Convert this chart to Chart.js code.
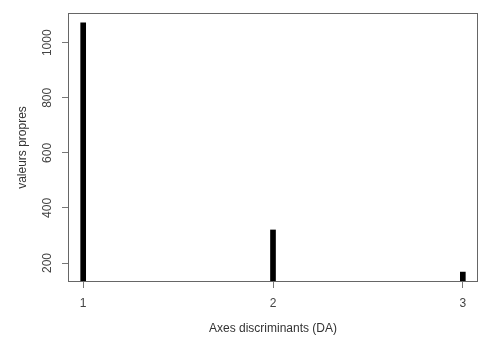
<!DOCTYPE html>
<html>
<head>
<meta charset="utf-8">
<script src="https://cdn.jsdelivr.net/npm/chart.js@4"></script>
<style>
  html, body { margin: 0; padding: 0; background: #fff; }
  #wrap { width: 482px; height: 337px; }
</style>
</head>
<body>
<div id="wrap"><canvas id="eigChart"></canvas></div>
<script>
const axes = [1, 2, 3];
const eigenvalues = [1072, 320, 167];
const yTicks = [200, 400, 600, 800, 1000];
const xTicks = [1, 2, 3];

const ctxEig = document.getElementById("eigChart");
const font = { family: "'Liberation Sans', Arial, sans-serif", size: 12 };

// box round the plot + rotated y tick labels, like base R
const rStyle = {
  id: "rStyle",
  afterDraw(chart) {
    const { ctx, chartArea: a, scales } = chart;
    ctx.save();
    ctx.strokeStyle = "#666";
    ctx.lineWidth = 1;
    ctx.strokeRect(a.left + 0.5, a.top + 0.5, a.right - a.left - 1, a.bottom - a.top - 1);
    ctx.fillStyle = "#444";
    ctx.font = "12px 'Liberation Sans', Arial, sans-serif";
    ctx.textAlign = "center";
    ctx.textBaseline = "middle";
    yTicks.forEach((v) => {
      const y = scales.y.getPixelForValue(v);
      ctx.save();
      ctx.translate(48, y);
      ctx.rotate(-Math.PI / 2);
      ctx.fillText(String(v), 0, 0);
      ctx.restore();
    });
    ctx.restore();
  },
};

new Chart(ctxEig, {
  type: "bar",
  data: {
    datasets: [
      {
        data: axes.map((x, i) => ({ x: x, y: eigenvalues[i] })),
        backgroundColor: "#000",
        barThickness: 5,
        clip: 0,
      },
    ],
  },
  options: {
    responsive: true,
    maintainAspectRatio: false,
    animation: false,
    layout: { padding: { top: 13, right: 4, left: 0, bottom: 0 } },
    plugins: { legend: { display: false }, tooltip: { enabled: false } },
    scales: {
      x: {
        type: "linear",
        offset: false,
        min: 0.92,
        max: 3.08,
        afterBuildTicks: (s) => { s.ticks = xTicks.map((v) => ({ value: v })); },
        afterFit: (s) => { s.height = 55; },
        grid: { offset: false, drawOnChartArea: false, drawTicks: true, tickLength: 6, color: "#777" },
        border: { display: false },
        ticks: { font: font, color: "#444", padding: 8, maxRotation: 0 },
        title: {
          display: true,
          text: "Axes discriminants (DA)",
          font: font,
          color: "#333",
          padding: { top: 0, bottom: 1 },
        },
      },
      y: {
        min: 131,
        max: 1108,
        afterBuildTicks: (s) => { s.ticks = yTicks.map((v) => ({ value: v })); },
        afterFit: (s) => { s.width = 68; },
        grid: { drawOnChartArea: false, drawTicks: true, tickLength: 6, color: "#777" },
        border: { display: false },
        ticks: { display: false },
        title: {
          display: true,
          text: "valeurs propres",
          font: font,
          color: "#333",
          padding: { top: 15, bottom: 0 },
        },
      },
    },
  },
  plugins: [rStyle],
});
</script>
</body>
</html>
